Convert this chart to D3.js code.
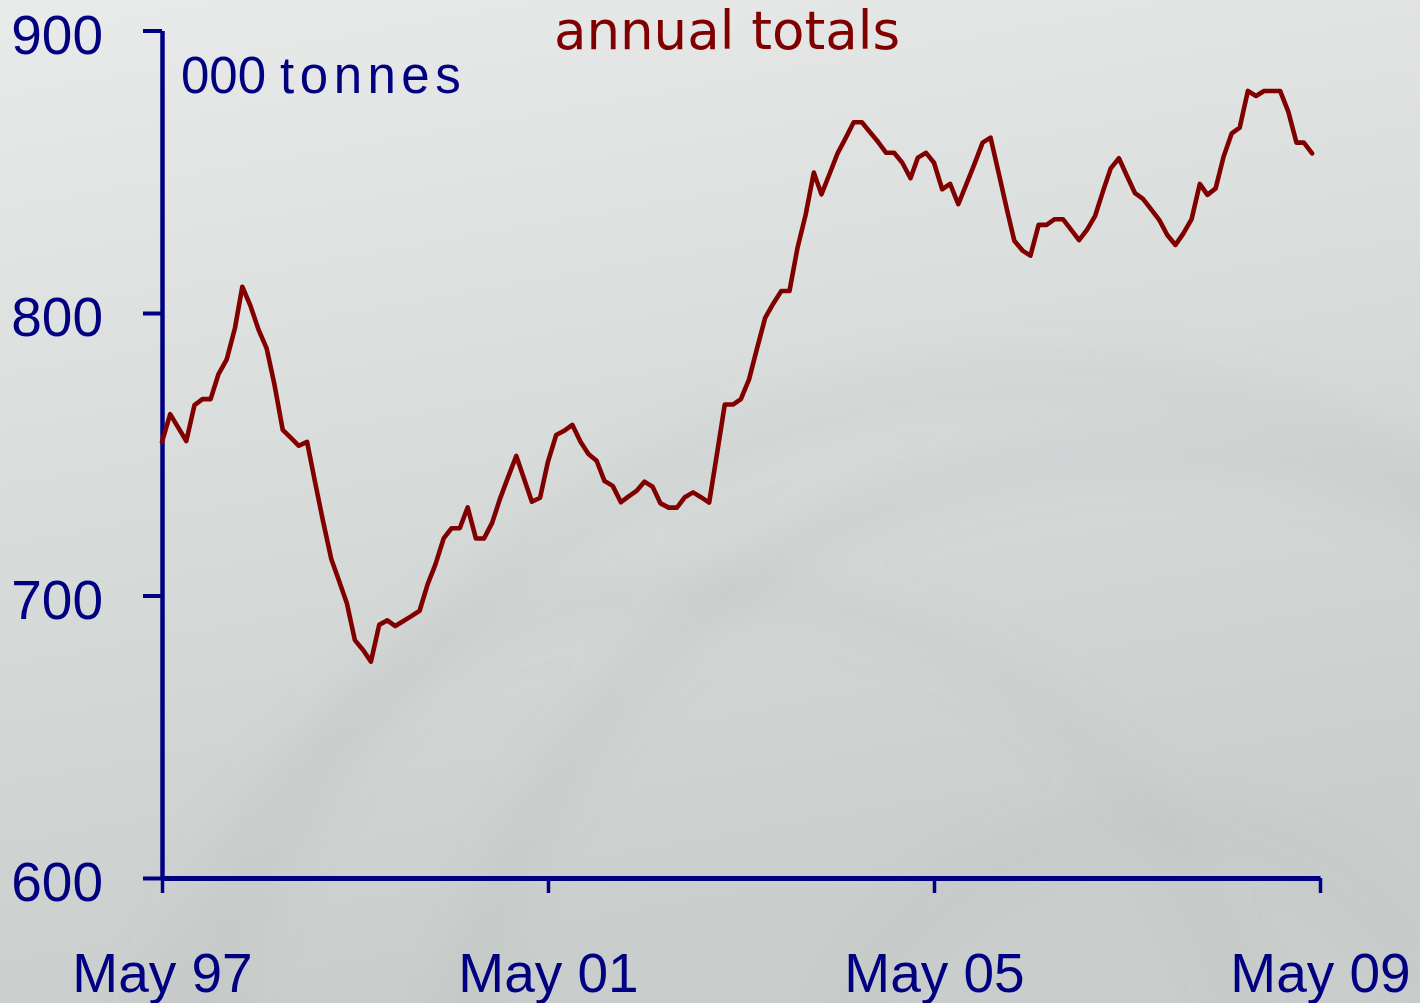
<!DOCTYPE html>
<html>
<head>
<meta charset="utf-8">
<script src="https://cdn.jsdelivr.net/npm/d3@7"></script>
<style>
  html, body { margin: 0; padding: 0; overflow: hidden; }
  svg { display: block; }
</style>
</head>
<body>
<svg id="chart"></svg>
<script>
// monthly annual totals, 000 tonnes, May 1997 - Apr 2009
const startMonth = new Date(1997, 4, 1);
const values = [
  754.4, 764.2, 759.5, 754.7, 767.4, 769.5, 769.5, 778.4, 783.6, 794.6, 809.3, 802.5,
  794.2, 787.5, 774.5, 758.6, 755.8, 753.0, 754.4, 740.3, 726.1, 712.8, 705.5, 697.2,
  684.2, 680.7, 676.6, 689.6, 691.2, 689.2, 691.0, 692.7, 694.6, 704.1, 711.0, 720.2,
  723.8, 723.8, 731.2, 720.2, 720.2, 725.6, 734.4, 741.9, 749.4, 740.9, 733.2, 734.6,
  747.4, 756.8, 758.3, 760.4, 754.4, 750.1, 747.7, 740.5, 738.8, 733.0, 735.0, 737.0,
  740.3, 738.5, 732.6, 731.1, 731.1, 734.8, 736.5, 734.8, 732.9, 750.9, 767.6, 767.6,
  769.5, 776.5, 787.4, 798.3, 803.4, 807.8, 807.8, 822.9, 834.7, 849.7, 842.0, 849.3,
  856.5, 862.0, 867.5, 867.5, 864.0, 860.6, 856.7, 856.7, 853.2, 847.7, 855.0, 856.7,
  853.2, 843.8, 845.7, 838.5, 845.7, 852.7, 860.3, 862.1, 849.5, 836.6, 825.6, 822.1,
  820.3, 831.2, 831.2, 833.2, 833.2, 829.6, 825.8, 829.4, 834.4, 843.5, 851.2, 854.8,
  848.6, 842.4, 840.4, 836.7, 832.9, 827.6, 824.1, 828.2, 833.2, 845.7, 841.8, 844.1,
  855.3, 863.6, 865.6, 878.6, 876.8, 878.6, 878.6, 878.6, 871.3, 860.3, 860.3, 856.5
];
const months = values.map((v, i) => d3.timeMonth.offset(startMonth, i));
const yTicks = [600, 700, 800, 900];
const xTicks = [new Date(1997, 4, 1), new Date(2001, 4, 1), new Date(2005, 4, 1), new Date(2009, 4, 1)];
const title = "annual totals";
const unitLabel = ["000", "tonnes"];

const width = 1420;
const height = 1003;
const navy = "#000080";
const maroon = "#800000";

const svg = d3.select("#chart")
    .attr("width", width)
    .attr("height", height);

// background: grey slide gradient with soft swirl arcs
const defs = svg.append("defs");
const bg = defs.append("linearGradient")
    .attr("id", "bg").attr("x1", 0).attr("y1", 0).attr("x2", 0.25).attr("y2", 1);
bg.append("stop").attr("offset", "0%").attr("stop-color", "#e9ebea");
bg.append("stop").attr("offset", "45%").attr("stop-color", "#d9dddc");
bg.append("stop").attr("offset", "100%").attr("stop-color", "#c9cdcc");

defs.append("filter").attr("id", "soft")
    .attr("x", "-50%").attr("y", "-50%").attr("width", "200%").attr("height", "200%")
    .append("feGaussianBlur").attr("stdDeviation", 22);

svg.append("rect")
    .attr("width", width).attr("height", height)
    .attr("fill", "url(#bg)");

const swirls = svg.append("g").attr("filter", "url(#soft)").attr("fill", "none");
[
  { cx: 1150, cy: 1150, r: 700, w: 40, o: 0.10 },
  { cx: 1150, cy: 1150, r: 330, w: 30, o: 0.08 },
  { cx: 1050, cy: 1250, r: 870, w: 50, o: 0.08 },
  { cx: 700, cy: 1150, r: 560, w: 40, o: 0.07 }
].forEach(s => {
  swirls.append("circle")
      .attr("cx", s.cx).attr("cy", s.cy).attr("r", s.r)
      .attr("stroke", "#8e9493").attr("stroke-width", s.w)
      .attr("stroke-opacity", s.o);
});

// scales
const x = d3.scaleTime()
    .domain([xTicks[0], xTicks[xTicks.length - 1]])
    .range([162, 1320]);
const y = d3.scaleLinear()
    .domain([600, 900])
    .range([878, 30.5]);

// y axis
const yAxis = svg.append("g")
    .attr("transform", "translate(162,0)")
    .call(d3.axisLeft(y).tickValues(yTicks).tickSize(19).tickSizeOuter(0).tickPadding(40));
yAxis.select(".domain").attr("stroke", navy).attr("stroke-width", 4.5);
yAxis.selectAll(".tick line").attr("stroke", navy).attr("stroke-width", 4);
yAxis.selectAll(".tick text")
    .attr("fill", navy)
    .attr("dy", "0.41em")
    .style("font-family", "'Liberation Sans', Arial, sans-serif")
    .style("font-size", "55px");

// x axis
const xAxis = svg.append("g")
    .attr("transform", "translate(0,878)")
    .call(d3.axisBottom(x).tickValues(xTicks).tickSize(15).tickSizeOuter(0).tickPadding(60)
        .tickFormat(d3.timeFormat("%b %y")));
xAxis.select(".domain").attr("stroke", navy).attr("stroke-width", 5);
xAxis.selectAll(".tick line").attr("stroke", navy).attr("stroke-width", 3.5);
xAxis.selectAll(".tick text")
    .attr("fill", navy)
    .style("font-family", "'Liberation Sans', Arial, sans-serif")
    .style("font-size", "55px");

// the series
const line = d3.line()
    .x((d, i) => x(months[i]))
    .y(d => y(d));

svg.append("path")
    .datum(values)
    .attr("fill", "none")
    .attr("stroke", maroon)
    .attr("stroke-width", 4.6)
    .attr("stroke-linejoin", "round")
    .attr("stroke-linecap", "round")
    .attr("d", line);

// labels
const unit = svg.append("text")
    .attr("x", 181).attr("y", 93)
    .attr("fill", navy)
    .style("font-family", "'Liberation Sans', Arial, sans-serif")
    .style("font-size", "51px");
unit.append("tspan").text(unitLabel[0]);
unit.append("tspan").attr("dx", 14).style("letter-spacing", "5.5px").text(unitLabel[1]);

svg.append("text")
    .attr("x", 727).attr("y", 49)
    .attr("text-anchor", "middle")
    .attr("fill", maroon)
    .style("font-family", "'DejaVu Sans', Verdana, sans-serif")
    .style("font-size", "53px")
    .text(title);
</script>
</body>
</html>
